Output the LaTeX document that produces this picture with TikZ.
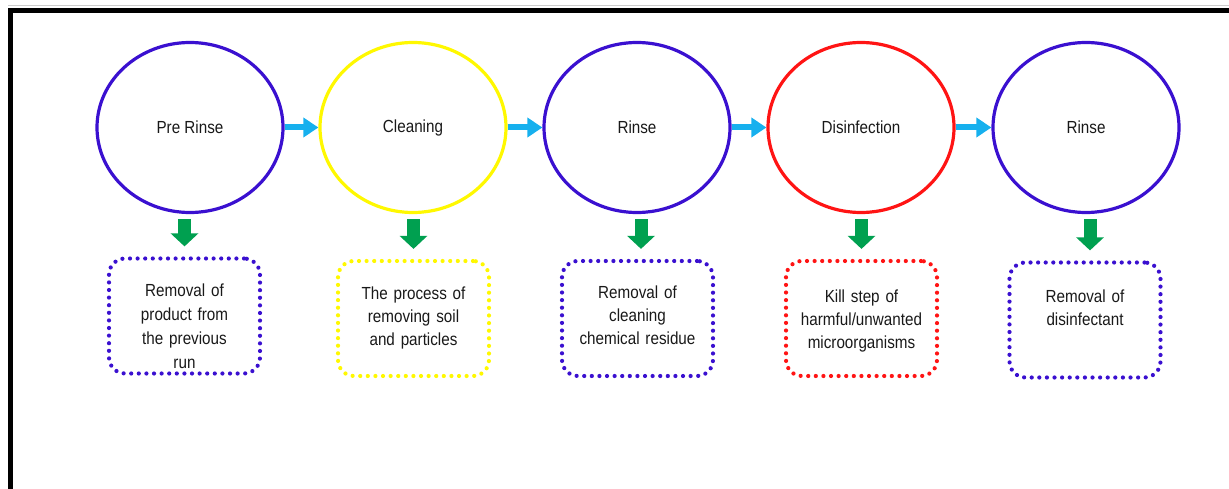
\documentclass[tikz,border=0pt]{standalone}
\usepackage{fontspec}
\setmainfont{Liberation Sans}[FakeStretch=0.87]
\usetikzlibrary{arrows.meta,calc,shapes.geometric}
\definecolor{ringblue}{RGB}{58,16,208}
\definecolor{ringred}{RGB}{255,20,20}
\definecolor{ringyellow}{RGB}{255,248,0}
\definecolor{flowcyan}{RGB}{22,176,238}
\definecolor{flowgreen}{RGB}{0,160,80}
\tikzset{
    stage/.style={draw, ellipse, line width=3.2pt, minimum width=186pt, minimum height=170pt,
        inner sep=0pt, text=black!90, font=\fontsize{17.5}{21}\selectfont},
    notebox/.style={draw, rounded corners=16pt, line width=4.2pt, line cap=round,
        dash pattern=on 0pt off 7.6pt, minimum width=151pt, minimum height=115pt},
    boxtext/.style={anchor=north, align=center, text width=140pt, inner sep=0pt,
        text=black!90, font=\fontsize{17.5}{23}\selectfont},
    nextarrow/.style={flowcyan, line width=6pt, -{Triangle[width=19pt,length=15pt]}},
    downarrow/.style={flowgreen, line width=13pt, -{Triangle[width=27pt,length=13pt]},
        shorten <=5pt, shorten >=10pt}
}
\begin{document}
\begin{tikzpicture}[x=1pt, y=1pt]
    \useasboundingbox (0,0) rectangle (1229,488);
    \pgfmathsetmacro{\stagey}{360.5}
    \pgfmathsetmacro{\notey}{169.5}
    \draw [black!20, line width=1pt] (8,482.5) -- (1229,482.5);
    \draw [line width=4.8pt] (10.5,-20) -- (10.5,477.5) -- (1250,477.5);
    \node [stage, draw=ringblue] (prerinse) at (190,\stagey) {Pre Rinse};
    \node [stage, draw=ringyellow] (cleaning) at (413,\stagey) {Cleaning};
    \node [stage, draw=ringblue] (rinse) at (637,\stagey) {Rinse};
    \node [stage, draw=ringred] (disinfect) at (861,\stagey) {Disinfection};
    \node [stage, draw=ringblue] (finalrinse) at (1086,\stagey) {Rinse};
    \draw [nextarrow] (prerinse) -- (cleaning);
    \draw [nextarrow] (cleaning) -- (rinse);
    \draw [nextarrow] (rinse) -- (disinfect);
    \draw [nextarrow] (disinfect) -- (finalrinse);
    \node [notebox, draw=ringblue] (prerinsebox) at (184.5,{\notey+2.5}) {};
    \node [notebox, draw=ringyellow] (cleaningbox) at (413.5,\notey) {};
    \node [notebox, draw=ringblue] (rinsebox) at (637.5,\notey) {};
    \node [notebox, draw=ringred] (disinfectbox) at (861.5,\notey) {};
    \node [notebox, draw=ringblue] (finalrinsebox) at (1085,{\notey-1.5}) {};
    \node [boxtext, font=\fontsize{17.5}{24}\selectfont] (prerinsetext) at ([yshift=-27pt]prerinsebox.north) {Removal of\\product from\\the previous\\run};
    \node [boxtext] (cleaningtext) at ([yshift=-28pt]cleaningbox.north) {The process of\\removing soil\\and particles};
    \node [boxtext] (rinsetext) at ([yshift=-27pt]rinsebox.north) {Removal of\\cleaning\\chemical residue};
    \node [boxtext] (disinfecttext) at ([yshift=-31pt]disinfectbox.north) {Kill step of\\harmful/unwanted\\microorganisms};
    \node [boxtext] (finalrinsetext) at ([yshift=-29pt]finalrinsebox.north) {Removal of\\disinfectant};
    \draw [downarrow] (prerinse.south -| prerinsebox.north) -- (prerinsebox.north);
    \draw [downarrow] (cleaning.south -| cleaningbox.north) -- (cleaningbox.north);
    \draw [downarrow] ($(rinse.south -| rinsebox.north)+(3.5,0)$) -- ($(rinsebox.north)+(3.5,0)$);
    \draw [downarrow] (disinfect.south -| disinfectbox.north) -- (disinfectbox.north);
    \draw [downarrow] ($(finalrinse.south -| finalrinsebox.north)+(5,0)$) -- ($(finalrinsebox.north)+(5,0)$);
\end{tikzpicture}
\end{document}
